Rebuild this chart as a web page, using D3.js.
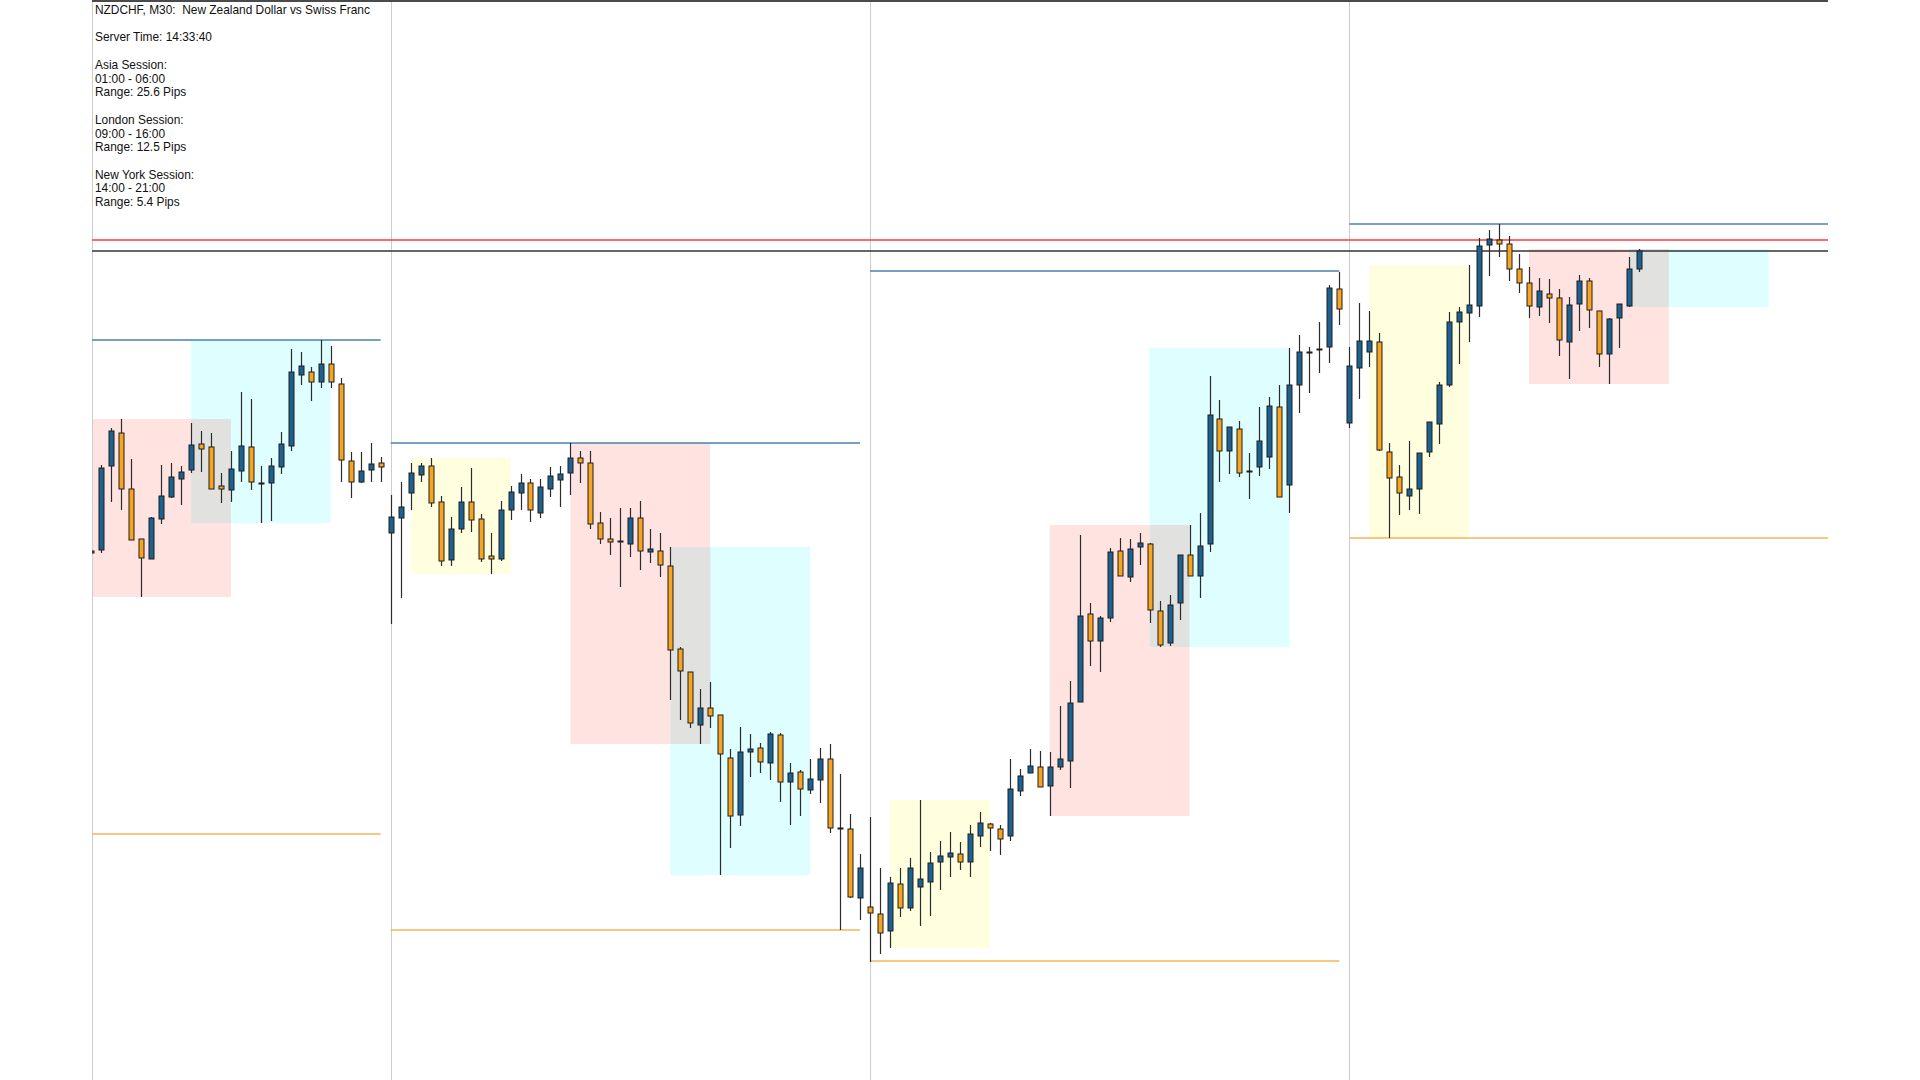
<!DOCTYPE html>
<html><head><meta charset="utf-8">
<script src="https://cdn.jsdelivr.net/npm/d3@7"></script>
<style>html,body{margin:0;padding:0;background:#fff;overflow:hidden}</style>
</head><body><svg id="c" width="1920" height="1080"></svg>
<script>
// ---- data (NZDCHF M30) ----
const openP = [
0.59447,0.59450,0.59534,0.59567,0.59511,0.59461,0.59441,0.59481,0.59503,0.59521,
0.59530,0.59556,0.59553,0.59514,0.59510,0.59529,0.59553,0.59517,0.59517,0.59533,
0.59554,0.59625,0.59628,0.59618,0.59636,0.59616,0.59539,0.59518,0.59530,0.59537,
0.59467,0.59482,0.59507,0.59525,0.59534,0.59498,0.59440,0.59471,0.59498,0.59481,
0.59444,0.59441,0.59490,0.59507,0.59517,0.59487,0.59511,0.59520,0.59527,0.59542,
0.59537,0.59477,0.59461,0.59459,0.59456,0.59482,0.59448,0.59449,0.59434,0.59351,
0.59328,0.59275,0.59292,0.59285,0.59242,0.59185,0.59248,0.59252,0.59237,0.59265,
0.59218,0.59228,0.59210,0.59220,0.59241,0.59172,0.59171,0.59102,0.59093,0.59086,
0.59069,0.59116,0.59092,0.59113,0.59118,0.59138,0.59143,0.59146,0.59138,0.59164,
0.59176,0.59171,0.59164,0.59209,0.59227,0.59233,0.59214,0.59233,0.59239,0.59298,
0.59386,0.59359,0.59382,0.59449,0.59423,0.59453,0.59456,0.59389,0.59357,0.59397,
0.59445,0.59424,0.59456,0.59581,0.59549,0.59571,0.59529,0.59533,0.59543,0.59593,
0.59515,0.59615,0.59648,0.59651,0.59653,0.59711,0.59577,0.59632,0.59648,0.59658,
0.59548,0.59523,0.59504,0.59511,0.59548,0.59576,0.59615,0.59678,0.59687,0.59694,
0.59755,0.59760,0.59756,0.59731,0.59717,0.59693,0.59706,0.59702,0.59658,0.59696,
0.59719,0.59689,0.59646,0.59682,0.59694,0.59731];
const highP = [
0.59450,0.59535,0.59572,0.59581,0.59541,0.59461,0.59483,0.59535,0.59537,0.59534,
0.59577,0.59569,0.59567,0.59527,0.59549,0.59608,0.59601,0.59534,0.59542,0.59568,
0.59651,0.59648,0.59633,0.59660,0.59654,0.59622,0.59548,0.59548,0.59557,0.59543,
0.59505,0.59518,0.59537,0.59537,0.59542,0.59504,0.59483,0.59513,0.59532,0.59486,
0.59467,0.59499,0.59514,0.59526,0.59521,0.59521,0.59533,0.59534,0.59557,0.59549,
0.59549,0.59488,0.59482,0.59492,0.59492,0.59499,0.59471,0.59467,0.59453,0.59353,
0.59328,0.59311,0.59318,0.59285,0.59251,0.59273,0.59266,0.59257,0.59268,0.59267,
0.59237,0.59230,0.59241,0.59252,0.59256,0.59226,0.59186,0.59146,0.59183,0.59132,
0.59123,0.59132,0.59142,0.59200,0.59148,0.59159,0.59168,0.59158,0.59175,0.59188,
0.59177,0.59175,0.59241,0.59231,0.59251,0.59249,0.59248,0.59294,0.59319,0.59465,
0.59397,0.59384,0.59452,0.59462,0.59461,0.59467,0.59457,0.59399,0.59405,0.59445,
0.59475,0.59487,0.59624,0.59600,0.59573,0.59579,0.59547,0.59593,0.59603,0.59615,
0.59652,0.59665,0.59653,0.59678,0.59715,0.59728,0.59653,0.59697,0.59689,0.59667,
0.59557,0.59535,0.59559,0.59547,0.59578,0.59618,0.59688,0.59693,0.59735,0.59762,
0.59770,0.59776,0.59764,0.59746,0.59733,0.59722,0.59721,0.59711,0.59703,0.59725,
0.59722,0.59689,0.59682,0.59696,0.59743,0.59751];
const lowP = [
0.59446,0.59447,0.59498,0.59490,0.59460,0.59403,0.59441,0.59476,0.59502,0.59495,
0.59527,0.59528,0.59511,0.59497,0.59498,0.59518,0.59510,0.59477,0.59479,0.59526,
0.59549,0.59615,0.59599,0.59612,0.59612,0.59518,0.59502,0.59517,0.59518,0.59518,
0.59376,0.59402,0.59490,0.59518,0.59493,0.59434,0.59434,0.59467,0.59468,0.59438,
0.59426,0.59439,0.59480,0.59490,0.59478,0.59482,0.59503,0.59493,0.59505,0.59517,
0.59471,0.59456,0.59445,0.59413,0.59443,0.59430,0.59437,0.59423,0.59300,0.59280,
0.59272,0.59256,0.59272,0.59125,0.59152,0.59174,0.59223,0.59227,0.59220,0.59198,
0.59175,0.59184,0.59206,0.59197,0.59167,0.59070,0.59102,0.59080,0.59038,0.59046,
0.59052,0.59083,0.59089,0.59074,0.59084,0.59110,0.59123,0.59130,0.59123,0.59153,
0.59149,0.59145,0.59159,0.59204,0.59227,0.59213,0.59184,0.59230,0.59212,0.59298,
0.59334,0.59328,0.59378,0.59424,0.59418,0.59435,0.59377,0.59353,0.59354,0.59380,
0.59424,0.59402,0.59448,0.59518,0.59526,0.59523,0.59501,0.59524,0.59531,0.59503,
0.59487,0.59587,0.59607,0.59627,0.59637,0.59675,0.59572,0.59601,0.59633,0.59549,
0.59462,0.59485,0.59490,0.59486,0.59543,0.59556,0.59613,0.59636,0.59658,0.59683,
0.59724,0.59743,0.59719,0.59707,0.59682,0.59684,0.59677,0.59644,0.59621,0.59669,
0.59672,0.59633,0.59616,0.59652,0.59693,0.59728];
const closeP = [
0.59449,0.59532,0.59569,0.59511,0.59460,0.59442,0.59482,0.59504,0.59523,0.59528,
0.59555,0.59551,0.59511,0.59511,0.59531,0.59554,0.59518,0.59517,0.59534,0.59556,
0.59628,0.59634,0.59618,0.59636,0.59618,0.59540,0.59518,0.59529,0.59536,0.59533,
0.59483,0.59493,0.59527,0.59534,0.59497,0.59439,0.59471,0.59498,0.59480,0.59441,
0.59441,0.59490,0.59508,0.59517,0.59490,0.59513,0.59524,0.59526,0.59542,0.59537,
0.59476,0.59461,0.59458,0.59459,0.59482,0.59449,0.59451,0.59435,0.59350,0.59329,
0.59277,0.59292,0.59284,0.59246,0.59184,0.59248,0.59251,0.59238,0.59266,0.59218,
0.59227,0.59211,0.59221,0.59241,0.59172,0.59172,0.59103,0.59132,0.59087,0.59067,
0.59117,0.59092,0.59132,0.59121,0.59137,0.59144,0.59147,0.59138,0.59166,0.59177,
0.59172,0.59161,0.59211,0.59224,0.59234,0.59213,0.59233,0.59241,0.59297,0.59384,
0.59359,0.59382,0.59448,0.59424,0.59451,0.59457,0.59390,0.59355,0.59395,0.59445,
0.59424,0.59454,0.59585,0.59549,0.59573,0.59527,0.59529,0.59559,0.59594,0.59503,
0.59615,0.59648,0.59648,0.59651,0.59712,0.59691,0.59634,0.59659,0.59659,0.59550,
0.59522,0.59507,0.59511,0.59547,0.59578,0.59615,0.59678,0.59688,0.59695,0.59754,
0.59761,0.59756,0.59731,0.59717,0.59694,0.59709,0.59702,0.59660,0.59695,0.59719,
0.59690,0.59646,0.59681,0.59696,0.59731,0.59749];

// bar index of each day's 00:00 candle (bar 0 = first visible bar)
const dayStartIdx = [-18, 30, 78, 126];
const dayHigh = [0.59660, 0.59557, 0.59729, 0.59776];
const dayLow  = [0.59166, 0.59070, 0.59039, 0.59462];
const bidPrice = 0.59749;
const askPrice = 0.59760;

const sessionNames = ["Asia", "London", "New York"];
const sessionStartHour = [1, 9, 14];
const sessionEndHour = [6, 16, 21];
const sessionColors = ["#ffffe0", "#ffe3e0", "#defeff"];
const overlapColor = "#e1e2df";

const infoLines = [
  "NZDCHF, M30:  New Zealand Dollar vs Swiss Franc", "",
  "Server Time: 14:33:40", "",
  "Asia Session:", "01:00 - 06:00", "Range: 25.6 Pips", "",
  "London Session:", "09:00 - 16:00", "Range: 12.5 Pips", "",
  "New York Session:", "14:00 - 21:00", "Range: 5.4 Pips"
];

// ---- drawing ----
const W = 1920, H = 1080, left = 92, right = 1828;
const svg = d3.select("#c");
svg.append("rect").attr("width", W).attr("height", H).attr("fill", "#fff");

const x = d3.scaleLinear().domain([30, 126]).range([390.7, 1349.3]);
const y = d3.scaleLinear().domain([0.60000, 0.58920]).range([0, H]);

svg.append("defs").append("clipPath").attr("id", "plot")
  .append("rect").attr("x", left).attr("y", 0).attr("width", right - left).attr("height", H);

const candles = d3.range(openP.length).map(i => ({i, o: openP[i], h: highP[i], l: lowP[i], c: closeP[i]}));

const g = svg.append("g").attr("clip-path", "url(#plot)");

// session boxes
const boxes = [];
const dayList = [];
dayStartIdx.forEach((ds, di) => {
  const dayBoxes = [];
  sessionNames.forEach((name, si) => {
    const a = ds + 2 * sessionStartHour[si], b = ds + 2 * sessionEndHour[si];
    const sub = candles.filter(c => c.i >= a && c.i <= b);
    if (!sub.length) { dayBoxes.push(null); return; }
    const bx = {si, a, b, hi: d3.max(sub, c => c.h), lo: d3.min(sub, c => c.l)};
    dayBoxes.push(bx); boxes.push(bx);
  });
  dayList.push(dayBoxes);
});
g.selectAll("rect.sess").data(boxes).join("rect").attr("class", "sess")
  .attr("x", d => Math.max(left, x(d.a)))
  .attr("width", d => x(d.b) - Math.max(left, x(d.a)))
  .attr("y", d => y(d.hi)).attr("height", d => y(d.lo) - y(d.hi))
  .attr("fill", d => sessionColors[d.si]);
// London / New York overlap
const overlaps = dayList.map(db => {
  const L = db[1], N = db[2];
  if (!L || !N) return null;
  const top = Math.max(y(L.hi), y(N.hi)), bot = Math.min(y(L.lo), y(N.lo));
  if (bot <= top) return null;
  return {x1: Math.max(left, x(N.a)), x2: x(L.b), top, bot};
}).filter(d => d);
g.selectAll("rect.ov").data(overlaps).join("rect").attr("class", "ov")
  .attr("x", d => d.x1).attr("width", d => d.x2 - d.x1)
  .attr("y", d => d.top).attr("height", d => d.bot - d.top).attr("fill", overlapColor);

// period separators + left border
const seps = dayStartIdx.filter(d => x(d) > left).map(d => Math.round(x(d)) + 0.5);
seps.push(left + 0.5);
g.selectAll("line.sep").data(seps).join("line").attr("class", "sep")
  .attr("x1", d => d).attr("x2", d => d).attr("y1", 0).attr("y2", H)
  .attr("stroke", "#cdcdcd").attr("stroke-width", 1);

// day high / low lines
const lastDay = dayStartIdx.length - 1;
const dayLines = [];
dayStartIdx.forEach((ds, di) => {
  const x1 = Math.max(left, x(ds)), x2 = di === lastDay ? right : x(ds + 47);
  dayLines.push({x1, x2, p: dayHigh[di], col: "#4b82ad"});
  dayLines.push({x1, x2, p: dayLow[di], col: "#f9b458"});
});
g.selectAll("line.day").data(dayLines).join("line").attr("class", "day")
  .attr("x1", d => d.x1).attr("x2", d => d.x2)
  .attr("y1", d => y(d.p)).attr("y2", d => y(d.p))
  .attr("stroke", d => d.col).attr("stroke-width", 1.5);

// ask / bid lines
g.append("line").attr("x1", left).attr("x2", right).attr("y1", y(askPrice)).attr("y2", y(askPrice))
  .attr("stroke", "#ff3a3a").attr("stroke-width", 1.5);
g.append("line").attr("x1", left).attr("x2", right).attr("y1", y(bidPrice)).attr("y2", y(bidPrice))
  .attr("stroke", "#333").attr("stroke-width", 1.5);

// candles
const cx = i => Math.round(x(i)) + 0.5;
const cg = g.append("g");
cg.selectAll("line.wick").data(candles).join("line").attr("class", "wick")
  .attr("x1", d => cx(d.i)).attr("x2", d => cx(d.i))
  .attr("y1", d => y(d.h)).attr("y2", d => y(d.l))
  .attr("stroke", "#2b2b2b").attr("stroke-width", 1.2);
cg.selectAll("rect.body").data(candles).join("rect").attr("class", "body")
  .attr("x", d => cx(d.i) - 2.5).attr("width", 5)
  .attr("y", d => Math.min(y(d.o), y(d.c)))
  .attr("height", d => Math.max(1, Math.abs(y(d.o) - y(d.c))))
  .attr("fill", d => d.c > d.o ? "#1d6190" : (d.c < d.o ? "#f7a420" : "#222"))
  .attr("stroke", "#1e1e1e").attr("stroke-width", 1);

// top border
svg.append("line").attr("x1", left).attr("x2", right).attr("y1", 1).attr("y2", 1)
  .attr("stroke", "#4a4a4a").attr("stroke-width", 2);

// info text
svg.append("g").selectAll("text").data(infoLines).join("text")
  .attr("x", 95).attr("y", (d, i) => 14 + 13.73 * i)
  .style("white-space", "pre")
  .attr("font-family", "'Liberation Sans', Arial, sans-serif").attr("font-size", 11.9)
  .attr("fill", "#111").text(d => d);
</script></body></html>
